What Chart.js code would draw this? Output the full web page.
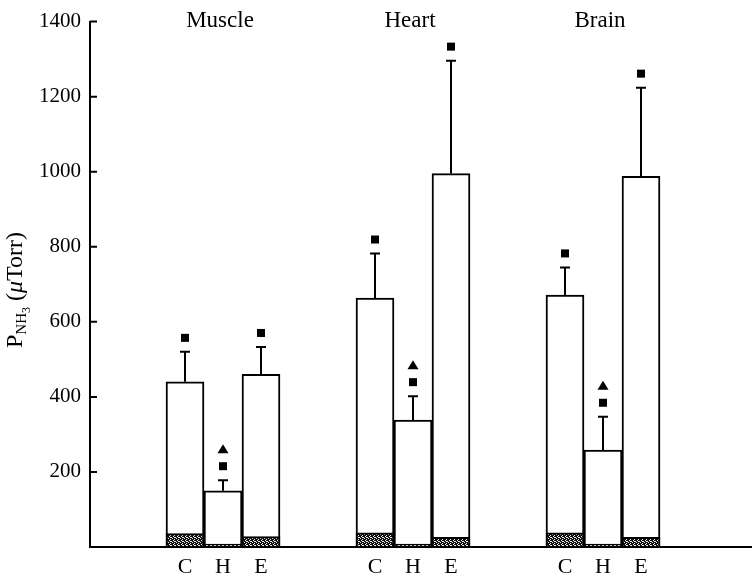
<!DOCTYPE html>
<html lang="en">
<head>
  <meta charset="UTF-8">
  <title>PNH3</title>
  <script src="https://cdn.jsdelivr.net/npm/chart.js"></script>
  <style>
    html, body { margin: 0; padding: 0; background: #fff; }
    #wrap { width: 755px; height: 576px; }
  </style>
</head>
<body>
<div id="wrap">
  <canvas id="myChart"></canvas>
</div>
<script>
const tissues = ['Muscle', 'Heart', 'Brain'];
const conditions = ['C', 'H', 'E'];

// bar heights (C, H, E)
const muscleMean = [440, 150, 460];
const heartMean = [663, 338, 995];
const brainMean = [671, 258, 988];

// top of the error bar
const muscleErr = [520, 178, 533];
const heartErr = [782, 402, 1296];
const brainErr = [745, 347, 1224];

// shaded part at the foot of each bar
const muscleBase = [36, 8, 28];
const heartBase = [38, 8, 26];
const brainBase = [38, 8, 26];

// significance marks over each bar, bottom to top
const muscleMarks = [['sq'], ['sq', 'tri'], ['sq']];
const heartMarks = [['sq'], ['sq', 'tri'], ['sq']];
const brainMarks = [['sq'], ['sq', 'tri'], ['sq']];

const yTicks = [200, 400, 600, 800, 1000, 1200, 1400];

const means = [muscleMean, heartMean, brainMean];
const errs = [muscleErr, heartErr, brainErr];
const bases = [muscleBase, heartBase, brainBase];
const marks = [muscleMarks, heartMarks, brainMarks];

// two empty slots before every group, and two after the last one
const labels = [], meanData = [], baseData = [], errData = [], markData = [], groupAt = [];
for (let g = 0; g < tissues.length; g++) {
  for (let k = 0; k < 2; k++) {
    labels.push(''); meanData.push(null); baseData.push(null); errData.push(null); markData.push(null);
  }
  for (let i = 0; i < conditions.length; i++) {
    if (i == 1) groupAt.push(labels.length);
    labels.push(conditions[i]);
    meanData.push(means[g][i]);
    baseData.push(bases[g][i]);
    errData.push(errs[g][i]);
    markData.push(marks[g][i]);
  }
}
labels.push('', '');
meanData.push(null, null); baseData.push(null, null); errData.push(null, null); markData.push(null, null);

const serif = '"Liberation Serif", "DejaVu Serif", serif';

// speckled dark fill for the bar feet
function speckle() {
  const c = document.createElement('canvas');
  c.width = 4; c.height = 4;
  const p = c.getContext('2d');
  p.fillStyle = '#111';
  p.fillRect(0, 0, 4, 4);
  p.fillStyle = '#eee';
  p.fillRect(1, 0, 1, 1);
  p.fillRect(3, 1, 1, 1);
  p.fillRect(0, 2, 1, 1);
  p.fillRect(2, 3, 1, 1);
  p.fillRect(2, 1, 1, 1);
  return p.createPattern(c, 'repeat');
}

const overlay = {
  id: 'overlay',
  afterDraw(chart) {
    const ctx = chart.ctx;
    const xs = chart.scales.x, ys = chart.scales.y, area = chart.chartArea;
    ctx.save();
    ctx.strokeStyle = '#000';
    ctx.fillStyle = '#000';

    // x axis runs on past the last bar
    ctx.lineWidth = 2;
    ctx.beginPath();
    ctx.moveTo(area.left - 1, area.bottom);
    ctx.lineTo(752, area.bottom);
    ctx.stroke();

    // y ticks point into the plot
    ctx.beginPath();
    yTicks.forEach(v => {
      const py = ys.getPixelForValue(v);
      ctx.moveTo(area.left, py);
      ctx.lineTo(area.left + 7, py);
    });
    ctx.stroke();

    // error bars and marks
    for (let i = 0; i < labels.length; i++) {
      if (errData[i] == null) continue;
      const px = xs.getPixelForValue(i);
      const top = ys.getPixelForValue(meanData[i]);
      const cap = ys.getPixelForValue(errData[i]);
      ctx.lineWidth = 2;
      ctx.beginPath();
      ctx.moveTo(px, top);
      ctx.lineTo(px, cap);
      ctx.moveTo(px - 5, cap);
      ctx.lineTo(px + 5, cap);
      ctx.stroke();
      let my = cap - 14;
      markData[i].forEach(m => {
        if (m == 'sq') {
          ctx.fillRect(px - 4, my - 4, 8, 8);
        } else {
          ctx.beginPath();
          ctx.moveTo(px, my - 5);
          ctx.lineTo(px + 5.5, my + 4);
          ctx.lineTo(px - 5.5, my + 4);
          ctx.closePath();
          ctx.fill();
        }
        my -= 17;
      });
    }

    // tissue names over the groups
    ctx.font = '23px ' + serif;
    ctx.textAlign = 'center';
    ctx.textBaseline = 'alphabetic';
    groupAt.forEach((idx, g) => {
      ctx.fillText(tissues[g], xs.getPixelForValue(idx) - 3, 27);
    });

    // y title with subscript
    const parts = [
      { t: 'P', f: '24px ' + serif, dy: 0 },
      { t: 'NH', f: '15px ' + serif, dy: 4 },
      { t: '3', f: '12px ' + serif, dy: 8 },
      { t: ' (', f: '24px ' + serif, dy: 0 },
      { t: 'μ', f: 'italic 24px ' + serif, dy: 0 },
      { t: 'Torr)', f: '24px ' + serif, dy: 0 }
    ];
    let total = 0;
    parts.forEach(p => { ctx.font = p.f; p.w = ctx.measureText(p.t).width; total += p.w; });
    ctx.translate(22, 290);
    ctx.rotate(-Math.PI / 2);
    ctx.textAlign = 'left';
    let tx = -total / 2;
    parts.forEach(p => {
      ctx.font = p.f;
      ctx.fillText(p.t, tx, p.dy);
      tx += p.w;
    });
    ctx.restore();
  }
};

const data = {
  labels: labels,
  datasets: [{
    label: 'base',
    data: baseData,
    backgroundColor: speckle(),
    borderColor: '#000',
    borderWidth: 2,
    grouped: false,
    barPercentage: 1,
    categoryPercentage: 1
  }, {
    label: 'mean',
    data: meanData,
    backgroundColor: '#fff',
    borderColor: '#000',
    borderWidth: 2,
    grouped: false,
    barPercentage: 1,
    categoryPercentage: 1
  }]
};

const config = {
  type: 'bar',
  data: data,
  options: {
    responsive: true,
    maintainAspectRatio: false,
    animation: false,
    layout: { padding: { top: 21, right: 19, left: 0, bottom: 0 } },
    plugins: { legend: { display: false }, tooltip: { enabled: false } },
    scales: {
      x: {
        grid: { display: false, drawTicks: false },
        border: { display: false },
        ticks: { color: '#000', font: { family: serif, size: 22 }, padding: 7, autoSkip: false, maxRotation: 0 },
        afterFit: s => { s.height = 29; }
      },
      y: {
        min: 0,
        max: 1400,
        grid: { display: false, drawTicks: false },
        border: { display: true, color: '#000', width: 2 },
        ticks: {
          stepSize: 200,
          color: '#000',
          font: { family: serif, size: 21 },
          padding: 9,
          callback: v => v === 0 ? '' : v
        },
        afterFit: s => { s.width = 90; }
      }
    }
  },
  plugins: [overlay]
};

const myChart = new Chart(document.getElementById('myChart'), config);
</script>
</body>
</html>
